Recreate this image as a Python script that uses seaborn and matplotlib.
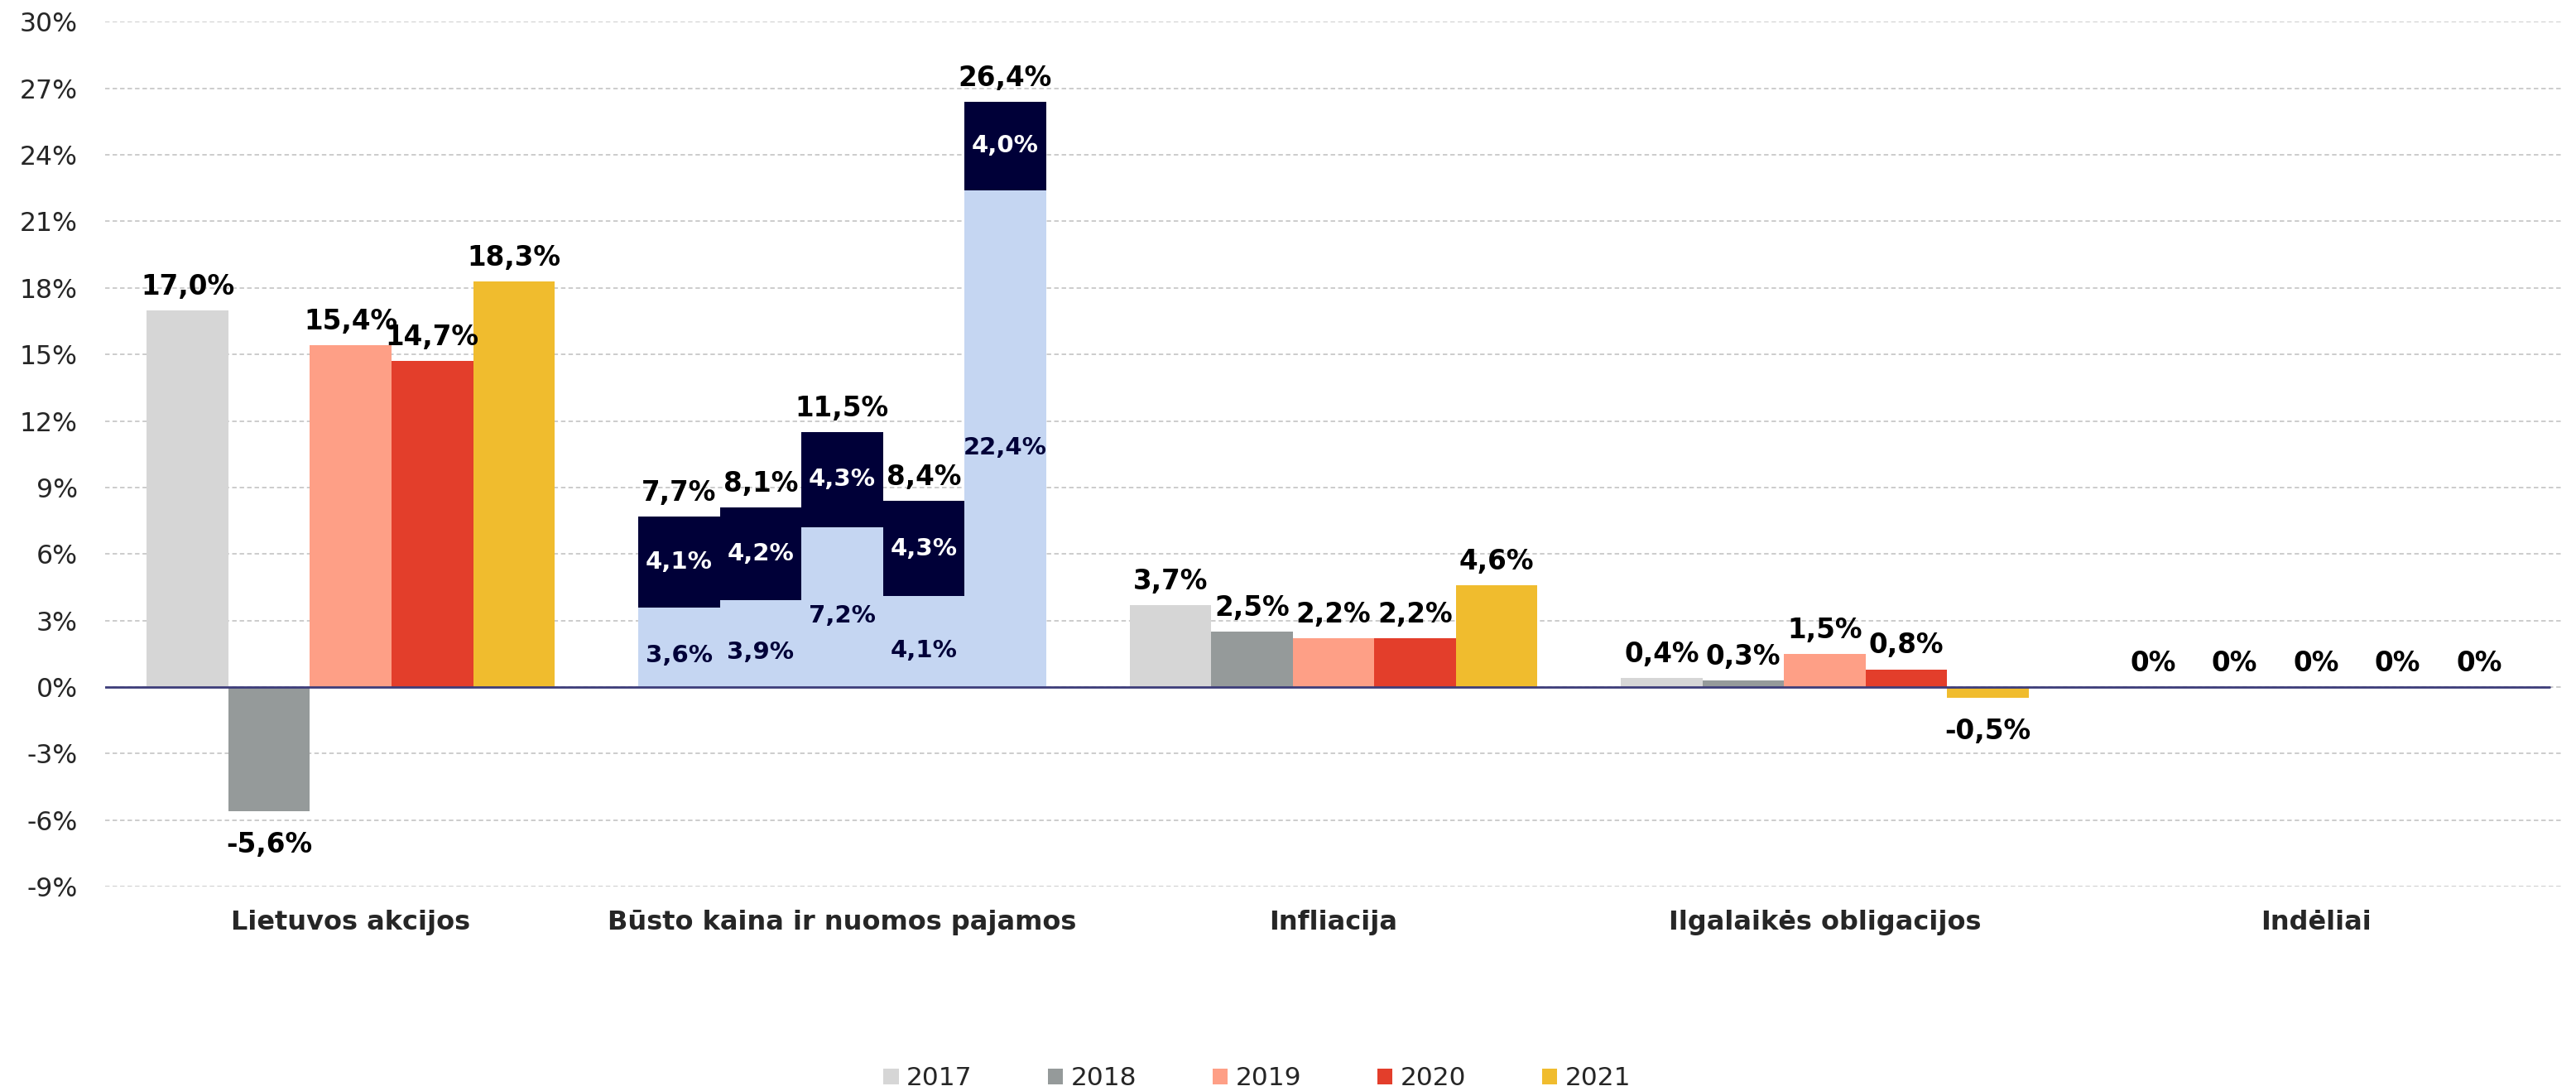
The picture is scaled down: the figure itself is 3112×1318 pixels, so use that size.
import matplotlib
matplotlib.use("Agg")
import matplotlib.pyplot as plt
import numpy as np
import pandas as pd
import seaborn as sns

# categories and years
categories = ["Lietuvos akcijos", "Būsto kaina ir nuomos pajamos", "Infliacija",
              "Ilgalaikės obligacijos", "Indėliai"]
years = ["2017", "2018", "2019", "2020", "2021"]

# values (%) per category, one per year
lt_stocks = [17.0, -5.6, 15.4, 14.7, 18.3]
housing_price = [3.6, 3.9, 7.2, 4.1, 22.4]   # bottom part of stacked bars
rental_income = [4.1, 4.2, 4.3, 4.3, 4.0]    # top part of stacked bars
inflation = [3.7, 2.5, 2.2, 2.2, 4.6]
bonds = [0.4, 0.3, 1.5, 0.8, -0.5]
deposits = [0.0, 0.0, 0.0, 0.0, 0.0]

yticks = list(range(-9, 31, 3))

year_colors = ["#d6d6d6", "#959a9a", "#fe9f86", "#e33e2b", "#f0bc2e"]
light_blue = "#c5d6f2"
navy = "#000038"

sns.set_style("white")
plt.rcParams['font.family'] = ['DejaVu Sans']

series = [lt_stocks, housing_price, inflation, bonds, deposits]
rows = []
for cat, vals in zip(categories, series):
    for yr, v in zip(years, vals):
        rows.append({"category": cat, "year": yr, "value": v})
df = pd.DataFrame(rows)

fig = plt.figure(figsize=(31.12, 13.18), dpi=100)
ax = fig.add_axes([0.0408, 0.1874, 0.9537, 0.7926])

# gridlines behind bars
ax.set_axisbelow(True)
ax.yaxis.grid(True, color="#c8c8c8", linestyle=(0, (3, 2)), linewidth=1.3)

sns.barplot(data=df, x="category", y="value", hue="year", palette=year_colors,
            width=0.83, gap=0, saturation=1, errorbar=None, ax=ax, legend=True,
            linewidth=0)

def fmt(v):
    if v == 0:
        return "0%"
    return f"{v:.1f}%".replace(".", ",")

label_size = 23.5
housing_idx = categories.index("Būsto kaina ir nuomos pajamos")
year_containers = list(ax.containers)
for j, cont in enumerate(year_containers):
    for i, bar in enumerate(cont.patches):
        x = bar.get_x() + bar.get_width() / 2
        if i == housing_idx:
            bar.set_facecolor(light_blue)
            bottom = housing_price[j]
            top = rental_income[j]
            ax.bar(x, top, bottom=bottom, width=bar.get_width(), color=navy,
                   linewidth=0, zorder=3)
            ax.text(x, bottom / 2 - 0.4, fmt(bottom), ha="center", va="center",
                    color=navy, fontsize=21, fontweight="bold", zorder=4)
            ax.text(x, bottom + top / 2, fmt(top), ha="center", va="center",
                    color="white", fontsize=21, fontweight="bold", zorder=4)
            ax.text(x, bottom + top + 0.45, fmt(bottom + top), ha="center", va="bottom",
                    color="black", fontsize=label_size, fontweight="bold", zorder=4)
            continue
        v = series[i][j]
        if v < 0:
            ax.text(x, v - 0.9, fmt(v), ha="center", va="top", color="black",
                    fontsize=label_size, fontweight="bold")
        else:
            ax.text(x, v + 0.45, fmt(v), ha="center", va="bottom", color="black",
                    fontsize=label_size, fontweight="bold")

ax.axhline(0, xmin=0, xmax=0.995, color="#3d3d7a", linewidth=2, zorder=5)

ax.set_xlim(-0.5, 4.5)
ax.set_ylim(-9, 30)
ax.set_yticks(yticks)
ax.set_yticklabels([f"{t}%" for t in yticks], fontsize=22.7)
ax.tick_params(axis="y", length=0, pad=24)
ax.tick_params(axis="x", length=0, pad=20)
for lbl in ax.get_xticklabels():
    lbl.set_fontsize(23)
    lbl.set_fontweight("bold")
ax.set_xlabel("")
ax.set_ylabel("")
for s in ax.spines.values():
    s.set_visible(False)

handles, labels = ax.get_legend_handles_labels()
ax.get_legend().remove()
fig.legend(handles, labels, loc="center", bbox_to_anchor=(0.488, 0.0115), ncol=5,
           frameon=False, handlelength=0.58, handleheight=0.55, handletextpad=0.29,
           columnspacing=2.95, borderpad=0, prop={"size": 22.5})

fig.savefig("out.png", dpi=100)
